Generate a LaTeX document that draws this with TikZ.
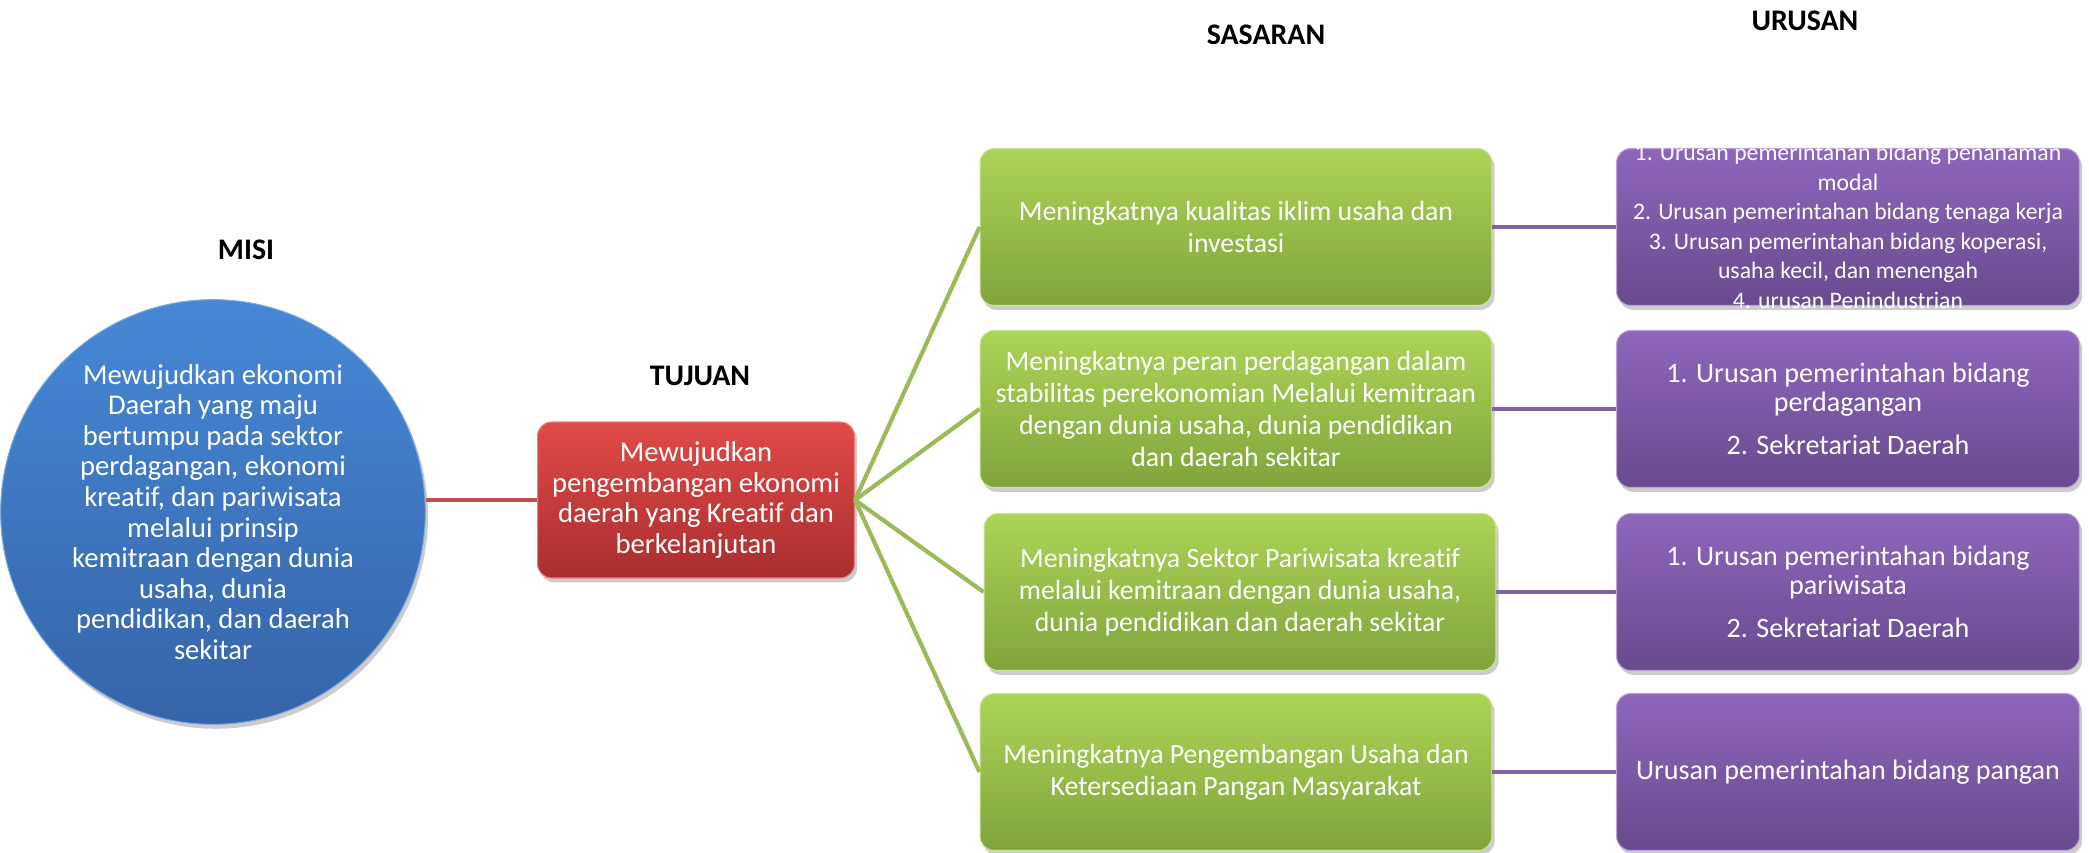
\documentclass[tikz,border=0pt]{standalone}
\usepackage{fontspec}
\setmainfont{Carlito}[Ligatures=NoCommon]
\usetikzlibrary{shadows}
\definecolor{misiblue}{RGB}{70,136,214}
\definecolor{misibluedark}{RGB}{54,100,168}
\definecolor{tujuanred}{RGB}{224,74,72}
\definecolor{tujuanreddark}{RGB}{170,46,46}
\definecolor{sasarangreen}{RGB}{172,212,86}
\definecolor{sasarangreendark}{RGB}{128,164,60}
\definecolor{urusanpurple}{RGB}{142,102,188}
\definecolor{urusanpurpledark}{RGB}{104,74,142}
\definecolor{linered}{RGB}{192,80,77}
\definecolor{linegreen}{RGB}{155,187,89}
\definecolor{linepurple}{RGB}{128,100,162}
\begin{document}
\begin{tikzpicture}[x=0.02cm,y=-0.02cm,
  heading/.style={font=\bfseries\fontsize{17}{20}\selectfont},
  card/.style={rounded corners=8pt, line width=0.6pt, text=white, align=center,
    font=\fontsize{16.3}{17.4}\selectfont,
    drop shadow={shadow xshift=1.5pt, shadow yshift=-2.5pt, opacity=0.4}},
  misicircle/.style={card, circle, minimum size=8cm, draw=misiblue!70!white,
    top color=misiblue, bottom color=misibluedark},
  tujuanbox/.style={card, minimum width=6.34cm, minimum height=3.12cm,
    draw=tujuanred!70!white, top color=tujuanred, bottom color=tujuanreddark},
  sasaranbox/.style={card, minimum width=10.24cm, minimum height=3.14cm,
    font=\fontsize{15.8}{18.3}\selectfont,
    draw=sasarangreen!60!white, top color=sasarangreen, bottom color=sasarangreendark},
  urusanbox/.style={card, minimum width=9.26cm, minimum height=3.14cm,
    font=\fontsize{16}{16.5}\selectfont,
    draw=urusanpurple!60!white, top color=urusanpurple, bottom color=urusanpurpledark}]
\useasboundingbox (0,0) rectangle (2089,852);

% column headings
\node[heading] (hmisi) at (246,250) {MISI};
\node[heading] (htujuan) at (700,376) {TUJUAN};
\node[heading] (hsasaran) at (1266,35) {SASARAN};
\node[heading] (hurusan) at (1805,21) {URUSAN};

% misi and tujuan
\node[misicircle] (misi) at (213,512) {Mewujudkan ekonomi\\ Daerah yang maju\\ bertumpu pada sektor\\ perdagangan, ekonomi\\ kreatif, dan pariwisata\\ melalui prinsip\\ kemitraan dengan dunia\\ usaha, dunia\\ pendidikan, dan daerah\\ sekitar};
\node[tujuanbox] (tujuan) at (696,500) {Mewujudkan\\ pengembangan ekonomi\\ daerah yang Kreatif dan\\ berkelanjutan};

% sasaran
\node[sasaranbox] (sas1) at (1236,227) {Meningkatnya kualitas iklim usaha dan\\ investasi};
\node[sasaranbox] (sas2) at (1236,409) {Meningkatnya peran perdagangan dalam\\ stabilitas perekonomian Melalui kemitraan\\ dengan dunia usaha, dunia pendidikan\\ dan daerah sekitar};
\node[sasaranbox] (sas3) at (1240,592) {Meningkatnya Sektor Pariwisata kreatif\\ melalui kemitraan dengan dunia usaha,\\ dunia pendidikan dan daerah sekitar};
\node[sasaranbox] (sas4) at (1236,772) {Meningkatnya Pengembangan Usaha dan\\ Ketersediaan Pangan Masyarakat};

% urusan (the first text runs over its box, as drawn)
\node[urusanbox, font=\fontsize{13.5}{16.8}\selectfont] (uru1) at (1848,227) {\smash{\raisebox{-4.5pt}{\begin{tabular}{@{}c@{}}1. Urusan pemerintahan bidang penanaman\\ modal\\ 2. Urusan pemerintahan bidang tenaga kerja\\ 3. Urusan pemerintahan bidang koperasi,\\ usaha kecil, dan menengah\\ 4. urusan Penindustrian\end{tabular}}}};
\node[urusanbox] (uru2) at (1848,409) {1. Urusan pemerintahan bidang\\ perdagangan\\[8pt] 2. Sekretariat Daerah};
\node[urusanbox] (uru3) at (1848,592) {1. Urusan pemerintahan bidang\\ pariwisata\\[8pt] 2. Sekretariat Daerah};
\node[urusanbox] (uru4) at (1848,772) {Urusan pemerintahan bidang pangan};

% connectors
\draw[linered, line width=2.3pt] (tujuan.west) -- (tujuan.west -| misi.east);
\foreach \s in {1,...,4}
  \draw[linegreen, line width=2.4pt] (tujuan.east) -- (sas\s.west);
\foreach \s in {1,...,4}
  \draw[linepurple, line width=2.6pt] (sas\s.east) -- (sas\s.east -| uru\s.west);
\end{tikzpicture}
\end{document}
